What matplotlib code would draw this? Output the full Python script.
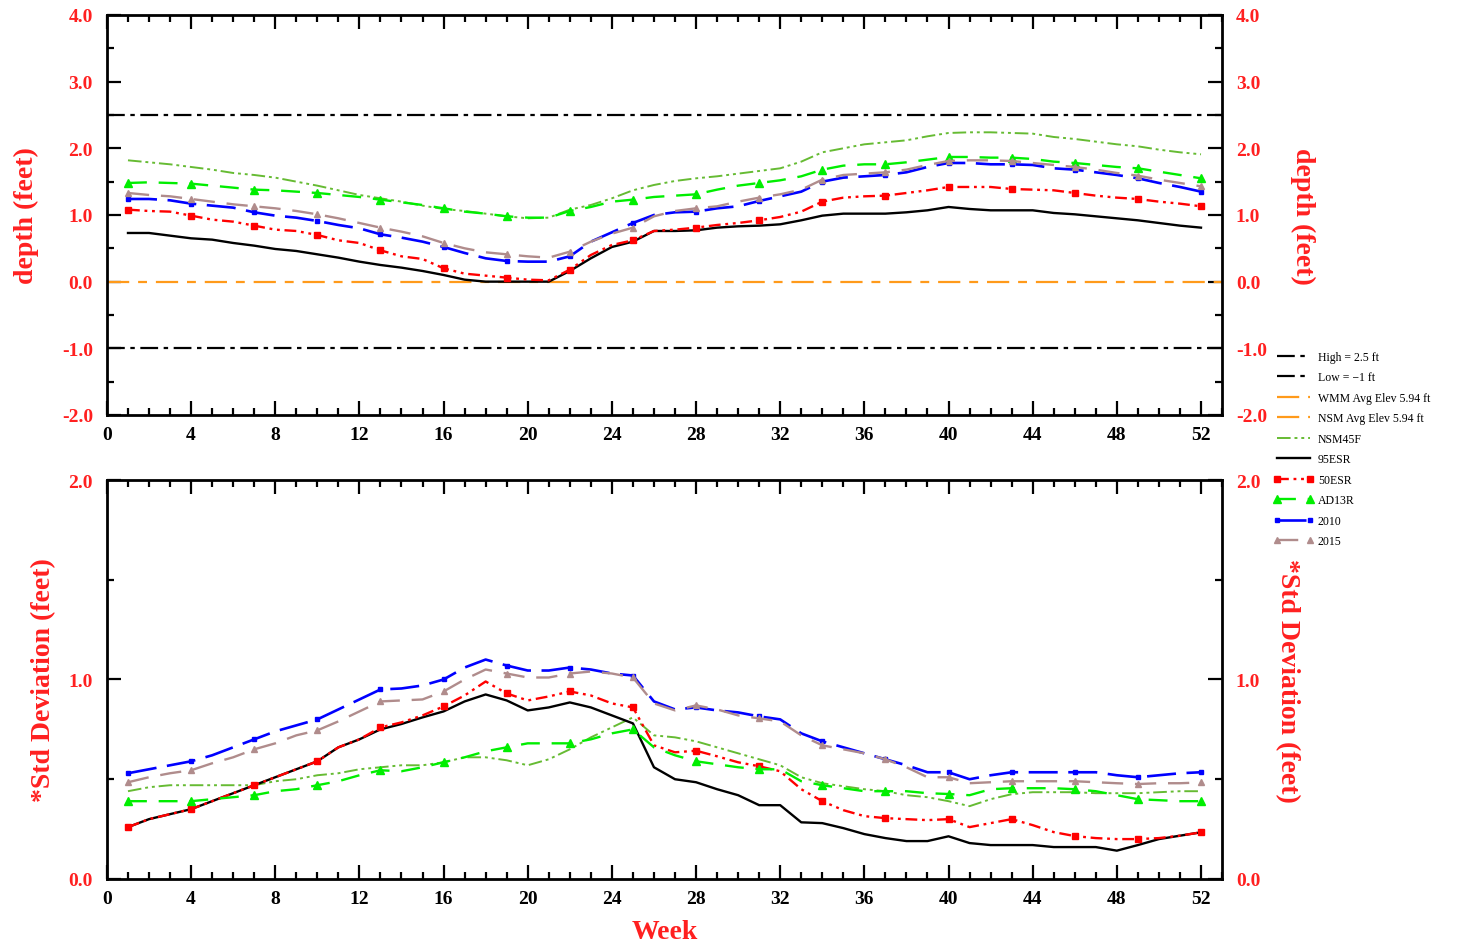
import matplotlib
matplotlib.use('Agg')
import matplotlib.pyplot as plt
from matplotlib.lines import Line2D
from matplotlib.ticker import MultipleLocator
import numpy as np

plt.rcParams['font.family'] = ['Liberation Serif', 'DejaVu Serif']
plt.rcParams['font.weight'] = 'bold'

weeks = np.arange(1, 53)

# top panel: weekly depth (feet)
depth_nsm45f = [1.82, 1.79, 1.76, 1.72, 1.68, 1.63, 1.60, 1.56, 1.50, 1.44, 1.37, 1.30, 1.25,
                1.20, 1.14, 1.09, 1.06, 1.02, 0.98, 0.95, 0.96, 1.08, 1.15, 1.25, 1.37, 1.45,
                1.51, 1.55, 1.58, 1.62, 1.66, 1.70, 1.80, 1.94, 2.00, 2.06, 2.09, 2.12, 2.18,
                2.23, 2.24, 2.24, 2.23, 2.22, 2.17, 2.14, 2.10, 2.06, 2.03, 1.98, 1.94, 1.91]
depth_95esr = [0.73, 0.73, 0.69, 0.65, 0.63, 0.58, 0.54, 0.49, 0.46, 0.41, 0.36, 0.30, 0.25,
               0.21, 0.16, 0.10, 0.03, 0.0, 0.0, 0.0, 0.0, 0.16, 0.35, 0.52, 0.60, 0.76,
               0.76, 0.77, 0.81, 0.83, 0.84, 0.86, 0.92, 0.99, 1.02, 1.02, 1.02, 1.04, 1.07,
               1.12, 1.09, 1.07, 1.07, 1.07, 1.03, 1.01, 0.98, 0.95, 0.92, 0.88, 0.84, 0.81]
depth_50esr = [1.08, 1.06, 1.05, 0.99, 0.93, 0.90, 0.84, 0.78, 0.76, 0.70, 0.62, 0.58, 0.47,
               0.38, 0.34, 0.20, 0.12, 0.09, 0.06, 0.03, 0.02, 0.18, 0.40, 0.55, 0.62, 0.76,
               0.78, 0.81, 0.85, 0.88, 0.92, 0.97, 1.05, 1.20, 1.26, 1.28, 1.29, 1.33, 1.37,
               1.42, 1.42, 1.42, 1.39, 1.38, 1.37, 1.33, 1.29, 1.26, 1.24, 1.20, 1.17, 1.13]
depth_ad13r = [1.48, 1.49, 1.48, 1.47, 1.44, 1.41, 1.38, 1.37, 1.35, 1.33, 1.30, 1.27, 1.23,
               1.19, 1.15, 1.10, 1.05, 1.02, 0.98, 0.96, 0.96, 1.06, 1.12, 1.20, 1.23, 1.27,
               1.29, 1.31, 1.38, 1.44, 1.48, 1.52, 1.58, 1.68, 1.74, 1.76, 1.76, 1.79, 1.83,
               1.87, 1.87, 1.86, 1.86, 1.84, 1.80, 1.78, 1.75, 1.72, 1.70, 1.65, 1.60, 1.55]
depth_2010 = [1.24, 1.24, 1.22, 1.17, 1.14, 1.11, 1.04, 0.99, 0.96, 0.91, 0.85, 0.80, 0.71,
              0.66, 0.60, 0.52, 0.43, 0.35, 0.31, 0.30, 0.30, 0.38, 0.60, 0.74, 0.88, 1.00,
              1.04, 1.05, 1.10, 1.13, 1.21, 1.28, 1.35, 1.50, 1.56, 1.58, 1.60, 1.64, 1.72,
              1.78, 1.78, 1.76, 1.76, 1.75, 1.70, 1.68, 1.64, 1.60, 1.55, 1.48, 1.42, 1.35]
depth_2015 = [1.33, 1.30, 1.28, 1.24, 1.20, 1.16, 1.13, 1.10, 1.06, 1.01, 0.95, 0.88, 0.81,
              0.75, 0.68, 0.58, 0.50, 0.44, 0.41, 0.38, 0.36, 0.45, 0.60, 0.72, 0.81, 0.98,
              1.06, 1.10, 1.13, 1.20, 1.26, 1.31, 1.38, 1.53, 1.60, 1.62, 1.64, 1.68, 1.75,
              1.81, 1.82, 1.82, 1.81, 1.78, 1.75, 1.72, 1.68, 1.63, 1.59, 1.53, 1.48, 1.43]

# bottom panel: weekly std deviation (feet)
std_nsm45f = [0.44, 0.46, 0.47, 0.47, 0.47, 0.47, 0.47, 0.49, 0.50, 0.52, 0.53, 0.55, 0.56,
              0.57, 0.57, 0.585, 0.61, 0.61, 0.595, 0.57, 0.60, 0.65, 0.71, 0.76, 0.81, 0.72,
              0.71, 0.69, 0.66, 0.63, 0.60, 0.57, 0.51, 0.48, 0.465, 0.45, 0.44, 0.42, 0.41,
              0.39, 0.365, 0.40, 0.425, 0.435, 0.435, 0.435, 0.43, 0.43, 0.43, 0.435, 0.44, 0.44]
std_95esr = [0.26, 0.30, 0.325, 0.35, 0.39, 0.43, 0.47, 0.51, 0.55, 0.59, 0.66, 0.70, 0.75,
             0.777, 0.81, 0.84, 0.89, 0.925, 0.895, 0.845, 0.86, 0.885, 0.86, 0.82, 0.78, 0.56,
             0.50, 0.485, 0.45, 0.42, 0.37, 0.37, 0.284, 0.28, 0.255, 0.225, 0.205, 0.19, 0.19,
             0.214, 0.18, 0.17, 0.17, 0.17, 0.16, 0.16, 0.16, 0.142, 0.17, 0.20, 0.217, 0.234]
std_50esr = [0.26, 0.30, 0.325, 0.35, 0.39, 0.43, 0.47, 0.51, 0.55, 0.59, 0.66, 0.70, 0.76,
             0.785, 0.82, 0.865, 0.92, 0.99, 0.93, 0.895, 0.915, 0.94, 0.92, 0.88, 0.86, 0.67,
             0.635, 0.643, 0.615, 0.585, 0.565, 0.54, 0.45, 0.39, 0.345, 0.315, 0.305, 0.30, 0.295,
             0.30, 0.26, 0.28, 0.30, 0.27, 0.235, 0.215, 0.205, 0.20, 0.20, 0.205, 0.217, 0.234]
std_ad13r = [0.39, 0.39, 0.39, 0.39, 0.40, 0.41, 0.42, 0.44, 0.45, 0.47, 0.49, 0.52, 0.545,
             0.54, 0.56, 0.585, 0.61, 0.64, 0.66, 0.68, 0.68, 0.68, 0.70, 0.73, 0.75, 0.66,
             0.62, 0.59, 0.575, 0.56, 0.55, 0.55, 0.49, 0.47, 0.455, 0.44, 0.44, 0.44, 0.43,
             0.426, 0.42, 0.45, 0.455, 0.455, 0.455, 0.45, 0.44, 0.42, 0.40, 0.395, 0.39, 0.39]
std_2010 = [0.53, 0.55, 0.57, 0.59, 0.62, 0.66, 0.70, 0.74, 0.77, 0.80, 0.85, 0.90, 0.95,
            0.955, 0.97, 1.00, 1.06, 1.10, 1.07, 1.045, 1.045, 1.06, 1.05, 1.03, 1.02, 0.89,
            0.85, 0.86, 0.845, 0.835, 0.815, 0.80, 0.73, 0.69, 0.66, 0.63, 0.60, 0.57, 0.535,
            0.535, 0.50, 0.52, 0.535, 0.535, 0.535, 0.535, 0.535, 0.52, 0.51, 0.52, 0.53, 0.535]
std_2015 = [0.485, 0.51, 0.53, 0.545, 0.58, 0.61, 0.65, 0.68, 0.72, 0.745, 0.79, 0.84, 0.89,
            0.895, 0.90, 0.94, 1.00, 1.05, 1.03, 1.01, 1.01, 1.03, 1.04, 1.03, 1.01, 0.88,
            0.845, 0.87, 0.85, 0.82, 0.805, 0.79, 0.72, 0.67, 0.65, 0.63, 0.60, 0.56, 0.51,
            0.51, 0.48, 0.485, 0.49, 0.49, 0.49, 0.49, 0.485, 0.48, 0.476, 0.48, 0.48, 0.484]

high_level = 2.5
low_level = -1.0
avg_level = 0.0

RED = '#FF2020'
styles = {
    'NSM45F': dict(color='#66BB33', ls=(0, (7, 2, 1.5, 2, 1.5, 2)), lw=1.4),
    '95ESR': dict(color='black', ls='-', lw=1.7),
    '50ESR': dict(color='#FF0000', ls=(0, (5, 2, 1.2, 2, 1.2, 2)), lw=1.7, marker='s', ms=5),
    'AD13R': dict(color='#00EE00', ls=(0, (8, 5)), lw=1.7, marker='^', ms=6),
    '2010': dict(color='#0000FF', ls=(0, (11, 4)), lw=1.9, marker='s', ms=3.5),
    '2015': dict(color='#B08C8C', ls=(0, (9, 5)), lw=1.7, marker='^', ms=4.5),
}

fig = plt.figure(figsize=(14.75, 9.45), dpi=100)
ax1 = fig.add_axes([0.0725, 0.5598, 0.756, 0.4233])
ax2 = fig.add_axes([0.0725, 0.0688, 0.756, 0.4222])

ax1.axhline(high_level, color='black', ls=(0, (8, 2.5, 2, 2.5)), lw=1.6)
ax1.axhline(low_level, color='black', ls=(0, (8, 2.5, 2, 2.5)), lw=1.6)
ax1.axhline(avg_level, color='#FF9A1A', ls=(0, (10, 4, 4, 4)), lw=1.6)

for ax, data in ((ax1, [depth_nsm45f, depth_95esr, depth_50esr, depth_ad13r, depth_2010, depth_2015]),
                 (ax2, [std_nsm45f, std_95esr, std_50esr, std_ad13r, std_2010, std_2015])):
    for name, ys in zip(styles, data):
        st = styles[name]
        ax.plot(weeks, ys, color=st['color'], ls=st['ls'], lw=st['lw'],
                marker=st.get('marker', None), ms=st.get('ms', 0), markevery=3)

for ax in (ax1, ax2):
    ax.set_xlim(0, 53)
    ax.xaxis.set_major_locator(MultipleLocator(4))
    ax.xaxis.set_minor_locator(MultipleLocator(1))
    ax.yaxis.set_major_locator(MultipleLocator(1))
    ax.yaxis.set_minor_locator(MultipleLocator(0.5))
    ax.tick_params(which='both', direction='in', top=True, right=True,
                   labelright=True, width=1.6)
    ax.tick_params(which='major', length=10)
    ax.tick_params(which='minor', length=5)
    ax.tick_params(axis='x', labelsize=14, pad=8)
    ax.tick_params(axis='y', labelsize=14, labelcolor=RED, pad=10)
    ax.yaxis.set_major_formatter(matplotlib.ticker.FormatStrFormatter('%.1f'))
    for s in ax.spines.values():
        s.set_linewidth(2)

ax1.set_ylim(-2, 4)
ax2.set_ylim(0, 2)

ax1.set_ylabel('depth (feet)', color=RED, fontsize=20, fontweight='bold')
ax1.yaxis.set_label_coords(-0.061, 0.5)
ax1.text(1.072, 0.5, 'depth (feet)', transform=ax1.transAxes, rotation=-90,
         color=RED, fontsize=20, fontweight='bold', ha='center', va='center')

ax2.set_ylabel('*Std Deviation (feet)', color=RED, fontsize=20, fontweight='bold')
ax2.yaxis.set_label_coords(-0.046, 0.5)
ax2.text(1.059, 0.5, '*Std Deviation (feet)', transform=ax2.transAxes, rotation=-90,
         color=RED, fontsize=20, fontweight='bold', ha='center', va='center')
ax2.set_xlabel('Week', color=RED, fontsize=20, fontweight='bold')
ax2.xaxis.set_label_coords(0.5, -0.1)

handles = [
    Line2D([], [], color='black', ls=(0, (8, 2.5, 2, 2.5)), lw=1.6),
    Line2D([], [], color='black', ls=(0, (8, 2.5, 2, 2.5)), lw=1.6),
    Line2D([], [], color='#FF9A1A', ls=(0, (10, 4, 4, 4)), lw=1.6),
    Line2D([], [], color='#FF9A1A', ls=(0, (10, 4, 4, 4)), lw=1.6),
]
for name in styles:
    st = styles[name]
    handles.append(Line2D([], [], color=st['color'], ls=st['ls'], lw=st['lw'],
                          marker=st.get('marker', None), ms=st.get('ms', 0)))
labels = ['High = 2.5 ft', 'Low = \u22121 ft', 'WMM Avg Elev 5.94 ft', 'NSM Avg Elev 5.94 ft',
          'NSM45F', '95ESR', '50ESR', 'AD13R', '2010', '2015']
fig.legend(handles, labels, loc='upper left', bbox_to_anchor=(1273 / 1475, 1 - 352 / 945),
           frameon=False, handlelength=3.4, handletextpad=0.4, numpoints=2,
           labelspacing=0.72, borderpad=0, borderaxespad=0,
           prop={'family': 'Liberation Serif', 'weight': 'normal', 'size': 8.5})

fig.savefig('out.png', dpi=100)
